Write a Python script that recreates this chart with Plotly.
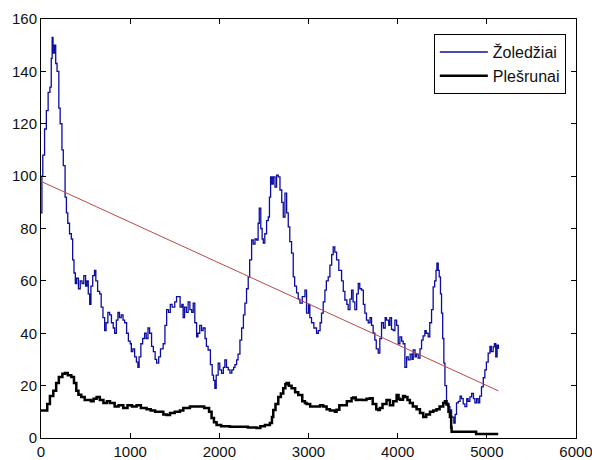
import plotly.graph_objects as go

# Žoledžiai (blue) series
zol_x = [0, 10, 20, 40, 60, 80, 100, 115, 125, 135, 150, 165, 180, 200, 215, 235, 250, 270, 285, 300,
         320, 340, 355, 370, 385, 400, 420, 440, 460, 480, 500, 515, 530, 546, 560, 580, 600, 615, 635, 658,
         675, 695, 714, 730, 750, 770, 790, 810, 826, 845, 863, 880, 900, 920, 938, 960, 980, 1000, 1013, 1030,
         1050, 1070, 1087, 1100, 1120, 1140, 1162, 1180, 1200, 1218, 1240, 1260, 1280, 1297, 1320, 1340, 1370, 1390, 1409, 1430,
         1450, 1470, 1500, 1520, 1538, 1560, 1580, 1594, 1610, 1630, 1650, 1670, 1690, 1707, 1725, 1745, 1760, 1780, 1800, 1818,
         1840, 1855, 1874, 1900, 1920, 1935, 1950, 1965, 1987, 2005, 2025, 2045, 2062, 2080, 2100, 2119, 2140, 2160, 2175, 2194,
         2210, 2231, 2250, 2270, 2287, 2305, 2324, 2340, 2362, 2380, 2400, 2418, 2435, 2448, 2465, 2480, 2493, 2510, 2530, 2549,
         2562, 2575, 2590, 2605, 2624, 2642, 2661, 2680, 2700, 2717, 2736, 2755, 2773, 2790, 2810, 2829, 2845, 2866, 2885, 2904,
         2930, 2960, 2978, 3000, 3015, 3034, 3060, 3090, 3110, 3130, 3146, 3165, 3184, 3200, 3221, 3240, 3260, 3277, 3295, 3315,
         3340, 3371, 3390, 3408, 3430, 3445, 3465, 3483, 3500, 3520, 3540, 3558, 3575, 3595, 3615, 3632, 3650, 3670, 3690, 3707,
         3725, 3744, 3760, 3782, 3800, 3819, 3840, 3860, 3875, 3900, 3913, 3931, 3950, 3969, 3988, 4006, 4025, 4045, 4062, 4081,
         4100, 4118, 4140, 4160, 4174, 4195, 4210, 4230, 4250, 4268, 4285, 4305, 4320, 4342, 4360, 4380, 4398, 4415, 4430, 4440,
         4455, 4466, 4480, 4492, 4505, 4518, 4530, 4548, 4565, 4586, 4605, 4630, 4645, 4660, 4680, 4700, 4716, 4735, 4754, 4775,
         4790, 4810, 4830, 4850, 4866, 4885, 4903, 4920, 4940, 4960, 4978, 4995, 5015, 5035, 5050, 5071, 5085, 5100, 5115, 5130]
zol_y = [86, 100, 108, 118, 125, 132, 134, 145, 153, 147, 150, 143, 140, 126, 120, 110, 104, 92, 86, 82,
         78, 76, 68, 63, 59, 61, 57, 60, 59, 62, 58, 60, 55, 51, 58, 62, 64, 60, 56, 55,
         50, 46, 41, 44, 48, 47, 44, 42, 40, 45, 48, 46, 47, 45, 44, 40, 37, 36, 33, 34,
         31, 29, 27, 31, 36, 38, 40, 38, 42, 40, 35, 33, 30, 28.6, 31, 34, 36, 43, 49, 48,
         51, 50, 52, 54, 54, 50, 51, 46, 50, 48, 52, 49, 48, 51.5, 44, 38.6, 40, 43, 41, 42,
         38, 35, 33.6, 28, 24, 22, 19, 24, 28.6, 26, 24.7, 27, 29.8, 27, 26, 24.8, 26, 27, 28, 29.8,
         32, 37.4, 42, 47, 51.5, 57, 61.5, 68, 75.6, 74, 76, 75.6, 82, 87.8, 80, 76, 74.4, 78, 83, 84.4,
         92, 99.7, 97, 99.7, 95.8, 100.4, 99.7, 94.7, 90, 84.4, 93.5, 86, 80.6, 75, 70.6, 61.5, 58, 55.4, 53, 51.5,
         54, 56.5, 47.7, 51, 46, 44, 42, 40, 41, 44, 47.7, 52, 56.5, 60, 61.5, 66, 70, 73, 71, 68,
         64, 60, 56, 52.7, 51, 49, 53, 56.5, 52, 49, 55, 59, 57, 56.5, 51, 47.7, 45, 44, 46, 43,
         40, 37.4, 34, 32.4, 38, 44, 42, 46, 45, 43, 46, 41.5, 41, 45, 43, 36, 38.6, 37, 36, 27,
         31, 29.8, 32, 30, 33.6, 31, 32, 30.5, 34, 37.4, 39, 41, 40, 38.6, 44, 49, 57.7, 60, 64, 66.8,
         64, 61.5, 55, 47.7, 38, 28.6, 20, 13.4, 12, 10.7, 8, 5.7, 9, 13.4, 14, 16, 15, 13, 12, 15,
         14, 15.7, 17, 15, 13.4, 15, 13.4, 16, 19.5, 23, 26, 29, 32.4, 35, 33, 34.8, 36, 31, 35.5, 34]

# Plešrunai (black) series
ples_x = [0, 40, 70, 100, 138, 170, 200, 240, 269, 300, 340, 370, 396, 420, 452, 490, 527, 560, 590, 624,
          660, 700, 740, 774, 826, 870, 923, 970, 1020, 1072, 1120, 1184, 1230, 1280, 1334, 1372, 1409, 1447, 1500, 1558,
          1596, 1640, 1670, 1710, 1745, 1782, 1830, 1857, 1885, 1913, 1940, 1969, 2020, 2070, 2119, 2180, 2230, 2268, 2320, 2380,
          2418, 2460, 2511, 2567, 2590, 2605, 2630, 2661, 2690, 2717, 2740, 2754, 2780, 2810, 2850, 2885, 2930, 2960, 2978, 3019,
          3053, 3090, 3130, 3165, 3203, 3240, 3296, 3315, 3346, 3389, 3430, 3483, 3501, 3530, 3558, 3600, 3650, 3688, 3720, 3760,
          3782, 3800, 3830, 3875, 3913, 3950, 3988, 4010, 4025, 4060, 4081, 4110, 4137, 4170, 4212, 4250, 4287, 4320, 4362, 4400,
          4436, 4470, 4511, 4530, 4548, 4570, 4586, 4600, 4605, 4700, 4800, 4877, 4880, 5000, 5128]
ples_y = [10.5, 10.5, 13, 16, 18, 21, 23.3, 24.5, 24.8, 24, 23.3, 21, 18, 16.5, 15.7, 14.5, 14.5, 14, 15, 15.7,
          14.5, 13.4, 14, 13.4, 12, 12.5, 11.5, 12.5, 12, 12.5, 11.5, 11, 10.5, 10, 10, 9, 8.8, 9.5, 10, 10.5,
          11.5, 11.5, 12, 12, 12, 12, 11.5, 11.5, 10, 7.6, 6, 5, 4.5, 4.5, 4.3, 4.3, 4.3, 4.3, 4, 4,
          3.8, 4.5, 5, 5.7, 8, 10.7, 13, 15.7, 17, 19, 20.5, 21, 20, 19, 17.5, 16.4, 14, 13.4, 13, 12,
          12, 12, 12.5, 12, 11, 10.5, 10, 10.8, 12.5, 12.5, 14, 15.2, 15.5, 14.5, 14.6, 14.5, 15, 15.2, 13, 11,
          10.7, 11.5, 13, 14.5, 12.5, 14, 16.4, 15, 14.6, 16, 15.7, 14.5, 13.4, 12, 11, 9.5, 8, 9, 10, 10.5,
          11, 12, 13.4, 14, 12.8, 10, 8, 4, 2.4, 2.4, 2.4, 2.4, 1.5, 1.5, 1.5]

# Trend line (red)
trend_x = [0, 5130]
trend_y = [98, 18]

x_ticks = [0, 1000, 2000, 3000, 4000, 5000, 6000]
y_ticks = [0, 20, 40, 60, 80, 100, 120, 140, 160]

fig = go.Figure()
fig.add_trace(go.Scatter(x=zol_x, y=zol_y, mode="lines", name="Žoledžiai",
                         line=dict(color="#0c0ca0", width=1.3, shape="hv")))
fig.add_trace(go.Scatter(x=ples_x, y=ples_y, mode="lines", name="Plešrunai",
                         line=dict(color="#000000", width=2.5, shape="hv")))
fig.add_trace(go.Scatter(x=trend_x, y=trend_y, mode="lines", showlegend=False,
                         line=dict(color="#b84848", width=1)))

axis_common = dict(showline=True, linecolor="black", linewidth=1, mirror="ticks",
                   ticks="inside", ticklen=5, tickcolor="black", showgrid=False,
                   zeroline=False, automargin=False, ticklabeloverflow="allow",
                   tickfont=dict(family="Liberation Sans, Arial", size=15, color="#111111"))

fig.update_layout(
    width=592, height=460,
    margin=dict(l=41, r=16, t=19, b=22),
    paper_bgcolor="white", plot_bgcolor="white",
    xaxis=dict(range=[0, 6000], tickvals=x_ticks, **axis_common),
    yaxis=dict(range=[0, 160], tickvals=y_ticks, **axis_common),
    legend=dict(x=0.981, y=0.964, xanchor="right", yanchor="top",
                bgcolor="white", bordercolor="black", borderwidth=1,
                itemwidth=48, font=dict(family="Liberation Sans, Arial", size=16, color="#111111")),
    showlegend=True,
)

# Remove the default page margin so the 592x460 figure fills the window exactly.
fig.write_html("out.html",
               config={"displayModeBar": False},
               post_script="document.body.style.margin='0';document.body.style.overflow='hidden';")
